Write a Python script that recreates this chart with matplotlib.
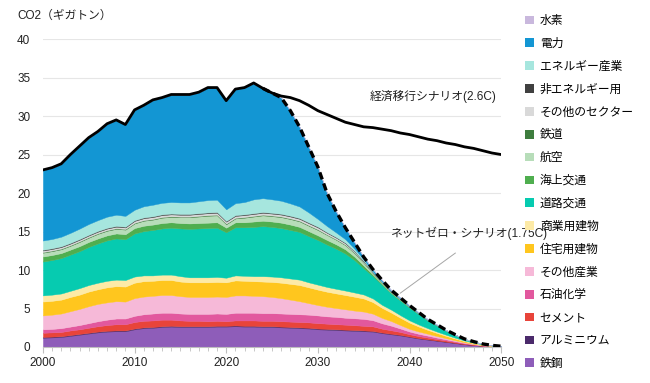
import numpy as np
import matplotlib
matplotlib.use("Agg")
import matplotlib.pyplot as plt
from matplotlib.patches import Patch

plt.rcParams['font.family'] = ['Liberation Sans', 'Noto Sans CJK JP', 'DejaVu Sans']

years = list(range(2000, 2051))

# 部門別排出量（ギガトン） 下から順に積み上げ
steel = [1.2, 1.25, 1.3, 1.45, 1.6, 1.75, 1.9, 2.0, 2.05, 2.05,
         2.3, 2.45, 2.5, 2.6, 2.65, 2.6, 2.6, 2.6, 2.6, 2.65,
         2.65, 2.7, 2.65, 2.65, 2.6, 2.6, 2.55, 2.5, 2.45, 2.4,
         2.3, 2.25, 2.2, 2.15, 2.1, 2.05, 2.0, 1.8, 1.65, 1.5,
         1.3, 1.1, 0.95, 0.8, 0.65, 0.5, 0.35, 0.24, 0.14, 0.07, 0.03]
aluminium = [0.1, 0.1, 0.1, 0.1, 0.1, 0.1, 0.1, 0.1, 0.1, 0.1,
             0.1, 0.1, 0.1, 0.1, 0.1, 0.1, 0.1, 0.1, 0.1, 0.1,
             0.1, 0.1, 0.1, 0.1, 0.1, 0.1, 0.1, 0.1, 0.1, 0.1,
             0.1, 0.1, 0.1, 0.1, 0.1, 0.1, 0.08, 0.08, 0.07, 0.07,
             0.06, 0.05, 0.05, 0.04, 0.04, 0.03, 0.02, 0.02, 0.01, 0.01, 0.0]
cement = [0.55, 0.55, 0.55, 0.6, 0.6, 0.65, 0.7, 0.75, 0.8, 0.8,
          0.85, 0.85, 0.85, 0.85, 0.8, 0.75, 0.7, 0.7, 0.65, 0.65,
          0.6, 0.65, 0.7, 0.7, 0.7, 0.7, 0.7, 0.7, 0.7, 0.7,
          0.7, 0.68, 0.66, 0.65, 0.63, 0.6, 0.6, 0.5, 0.45, 0.38,
          0.3, 0.26, 0.22, 0.18, 0.15, 0.11, 0.08, 0.05, 0.03, 0.02, 0.01]
petchem = [0.45, 0.45, 0.5, 0.5, 0.55, 0.6, 0.65, 0.7, 0.75, 0.75,
           0.8, 0.85, 0.9, 0.9, 0.9, 0.9, 0.9, 0.9, 0.95, 0.95,
           0.95, 1.0, 1.0, 1.0, 1.0, 1.0, 1.0, 1.0, 1.0, 1.0,
           1.0, 0.95, 0.95, 0.9, 0.9, 0.9, 0.8, 0.7, 0.6, 0.45,
           0.35, 0.3, 0.25, 0.2, 0.15, 0.12, 0.08, 0.05, 0.03, 0.02, 0.01]
other_industry = [1.8, 1.85, 1.9, 2.0, 2.1, 2.2, 2.25, 2.25, 2.25, 2.2,
                  2.3, 2.3, 2.3, 2.3, 2.3, 2.25, 2.2, 2.2, 2.2, 2.2,
                  2.2, 2.25, 2.25, 2.2, 2.2, 2.1, 2.0, 1.85, 1.7, 1.5,
                  1.35, 1.25, 1.15, 1.1, 1.0, 0.95, 0.85, 0.7, 0.6, 0.45,
                  0.35, 0.3, 0.25, 0.2, 0.15, 0.11, 0.08, 0.05, 0.03, 0.02, 0.01]
residential = [1.8, 1.8, 1.8, 1.85, 1.85, 1.9, 1.9, 1.95, 1.95, 1.95,
               2.0, 2.0, 1.95, 1.95, 1.95, 1.9, 1.9, 1.9, 1.9, 1.9,
               1.9, 1.95, 1.9, 1.9, 1.9, 1.95, 2.0, 2.05, 2.1, 2.05,
               2.0, 1.95, 1.9, 1.85, 1.8, 1.7, 1.5, 1.3, 1.1, 0.95,
               0.8, 0.65, 0.5, 0.4, 0.3, 0.22, 0.15, 0.1, 0.06, 0.03, 0.01]
commercial = [0.8, 0.8, 0.8, 0.8, 0.85, 0.85, 0.85, 0.85, 0.85, 0.85,
              0.8, 0.75, 0.7, 0.7, 0.7, 0.7, 0.65, 0.65, 0.65, 0.65,
              0.6, 0.65, 0.65, 0.65, 0.7, 0.7, 0.7, 0.7, 0.7, 0.65,
              0.65, 0.62, 0.6, 0.58, 0.55, 0.52, 0.48, 0.4, 0.38, 0.33,
              0.3, 0.26, 0.22, 0.18, 0.15, 0.11, 0.08, 0.05, 0.03, 0.02, 0.01]
road = [4.4, 4.5, 4.6, 4.7, 4.8, 4.95, 5.1, 5.25, 5.35, 5.3,
        5.6, 5.75, 5.9, 6.0, 6.1, 6.2, 6.3, 6.35, 6.4, 6.4,
        5.9, 6.25, 6.3, 6.4, 6.5, 6.45, 6.4, 6.3, 6.2, 6.0,
        5.8, 5.5, 5.2, 4.8, 4.2, 3.4, 2.9, 2.6, 2.1, 1.9,
        1.65, 1.35, 0.98, 0.77, 0.5, 0.33, 0.18, 0.12, 0.06, 0.02, 0.02]
marine = [0.65, 0.65, 0.65, 0.65, 0.65, 0.65, 0.65, 0.65, 0.65, 0.65,
          0.7, 0.7, 0.7, 0.7, 0.7, 0.7, 0.7, 0.7, 0.7, 0.7,
          0.6, 0.65, 0.65, 0.7, 0.7, 0.7, 0.7, 0.7, 0.65, 0.65,
          0.6, 0.6, 0.57, 0.55, 0.45, 0.35, 0.2, 0.15, 0.1, 0.08,
          0.07, 0.06, 0.05, 0.04, 0.03, 0.02, 0.01, 0.01, 0.01, 0.0, 0.0]
aviation = [0.5, 0.5, 0.5, 0.5, 0.55, 0.55, 0.6, 0.6, 0.6, 0.6,
            0.6, 0.65, 0.65, 0.7, 0.7, 0.75, 0.8, 0.85, 0.9, 0.9,
            0.45, 0.5, 0.6, 0.65, 0.7, 0.7, 0.72, 0.72, 0.72, 0.7,
            0.7, 0.65, 0.6, 0.55, 0.45, 0.35, 0.18, 0.12, 0.08, 0.06,
            0.05, 0.04, 0.03, 0.03, 0.02, 0.02, 0.01, 0.01, 0.0, 0.0, 0.0]
rail = [0.08, 0.08, 0.08, 0.08, 0.08, 0.08, 0.08, 0.08, 0.08, 0.08,
        0.08, 0.08, 0.08, 0.08, 0.08, 0.08, 0.08, 0.08, 0.08, 0.08,
        0.08, 0.08, 0.08, 0.08, 0.08, 0.08, 0.08, 0.08, 0.08, 0.08,
        0.08, 0.06, 0.06, 0.06, 0.06, 0.06, 0.03, 0.02, 0.02, 0.02,
        0.01, 0.01, 0.01, 0.01, 0.01, 0.01, 0.0, 0.0, 0.0, 0.0, 0.0]
other_sectors = [0.2, 0.2, 0.2, 0.2, 0.2, 0.2, 0.2, 0.2, 0.2, 0.2,
                 0.25, 0.25, 0.25, 0.25, 0.25, 0.25, 0.25, 0.25, 0.25, 0.25,
                 0.25, 0.25, 0.25, 0.25, 0.25, 0.25, 0.25, 0.25, 0.25, 0.25,
                 0.25, 0.22, 0.2, 0.18, 0.15, 0.12, 0.08, 0.05, 0.04, 0.03,
                 0.03, 0.02, 0.02, 0.01, 0.01, 0.01, 0.0, 0.0, 0.0, 0.0, 0.0]
non_energy = [0.1, 0.1, 0.1, 0.1, 0.1, 0.1, 0.1, 0.1, 0.1, 0.1,
              0.1, 0.1, 0.1, 0.1, 0.1, 0.1, 0.1, 0.1, 0.1, 0.1,
              0.1, 0.1, 0.1, 0.1, 0.1, 0.1, 0.1, 0.1, 0.1, 0.1,
              0.1, 0.08, 0.08, 0.08, 0.08, 0.08, 0.04, 0.03, 0.03, 0.02,
              0.02, 0.01, 0.01, 0.01, 0.01, 0.0, 0.0, 0.0, 0.0, 0.0, 0.0]
energy_industry = [1.2, 1.2, 1.25, 1.3, 1.35, 1.4, 1.4, 1.45, 1.45, 1.4,
                   1.35, 1.45, 1.5, 1.5, 1.5, 1.5, 1.5, 1.55, 1.6, 1.6,
                   1.5, 1.55, 1.6, 1.8, 1.8, 1.75, 1.7, 1.6, 1.5, 1.3,
                   1.0, 0.8, 0.6, 0.45, 0.3, 0.2, 0.08, 0.05, 0.04, 0.03,
                   0.02, 0.02, 0.01, 0.01, 0.01, 0.0, 0.0, 0.0, 0.0, 0.0, 0.0]
power = [9.17, 9.27, 9.47, 10.17, 10.72, 11.22, 11.52, 12.07, 12.32, 11.87,
         12.97, 13.12, 13.62, 13.67, 13.97, 14.02, 14.02, 14.17, 14.62, 14.57,
         14.12, 14.82, 14.87, 15.12, 14.27, 13.82, 13.4, 12.05, 10.35, 8.52,
         6.77, 4.29, 2.73, 1.5, 0.83, 0.32, 0.28, 0.2, 0.14, 0.13,
         0.09, 0.07, 0.05, 0.02, 0.02, 0.01, 0.01, 0.0, 0.0, 0.0, 0.0]
hydrogen = [0.0] * len(years)

# 経済移行シナリオ（2026年以降）
econ_years = list(range(2026, 2051))
econ_total = [32.6, 32.4, 32.0, 31.4, 30.7, 30.2, 29.7, 29.2, 28.9, 28.6,
              28.5, 28.3, 28.1, 27.8, 27.6, 27.3, 27.0, 26.8, 26.5, 26.3,
              26.0, 25.8, 25.5, 25.2, 25.0]

layers = [steel, aluminium, cement, petchem, other_industry, residential,
          commercial, road, marine, aviation, rail, other_sectors,
          non_energy, energy_industry, power, hydrogen]
labels = ['鉄鋼', 'アルミニウム', 'セメント', '石油化学', 'その他産業', '住宅用建物',
          '商業用建物', '道路交通', '海上交通', '航空', '鉄道', 'その他のセクター',
          '非エネルギー用', 'エネルギー産業', '電力', '水素']
colors = ['#8E5DB9', '#4B2A6B', '#E8443A', '#E2589E', '#F6B9D8', '#FFC61E',
          '#FDEAA6', '#06CBB0', '#4FAE4F', '#B7DDB9', '#3E7D3E', '#D9D9D9',
          '#404040', '#A6E6DE', '#1396D3', '#C9B8DD']

fig = plt.figure(figsize=(6.5, 3.83), dpi=100)
ax = fig.add_axes([0.066, 0.094, 0.705, 0.804])

polys = ax.stackplot(years, *layers, colors=colors)
for p, c in zip(polys, colors):
    p.set_edgecolor(c)
    p.set_linewidth(0.3)

total = np.sum(np.array(layers), axis=0)
hist_n = 2025 - 2000 + 1
solid_x = years[:hist_n] + econ_years
solid_y = list(total[:hist_n]) + econ_total
ax.plot(solid_x, solid_y, color='black', lw=2.0, solid_joinstyle='round', zorder=5)
ax.plot(years[24:], total[24:], color='black', lw=2.4, ls=(0, (2.2, 1.3)), zorder=6)

ax.set_xlim(2000, 2050)
ax.set_ylim(0, 40)
ax.set_yticks(range(0, 41, 5))
ax.set_xticks(range(2000, 2051, 10))
ax.set_xticks(years, minor=True)
ax.grid(axis='y', color='#E6E6E6', lw=0.8)
ax.set_axisbelow(True)
for s in ['top', 'right', 'left']:
    ax.spines[s].set_visible(False)
ax.spines['bottom'].set_color('#BFBFBF')
ax.tick_params(axis='y', length=0, pad=9, labelsize=8.5, labelcolor='#222222')
ax.tick_params(axis='x', which='major', length=4, color='#BFBFBF', pad=3,
               labelsize=8.5, labelcolor='#222222')
ax.tick_params(axis='x', which='minor', length=3, color='#BFBFBF')

fig.text(17 / 650, 1 - 16 / 383, 'CO2（ギガトン）', fontsize=8.5, va='center', ha='left',
         color='#222222')

ax.text(2035.7, 32.6, '経済移行シナリオ(2.6C)', fontsize=8.5, va='center', ha='left',
        color='#222222')
ax.text(2037.9, 14.8, 'ネットゼロ・シナリオ(1.75C)', fontsize=8.5, va='center', ha='left',
        color='#222222')
ax.plot([2045.0, 2039.0], [12.2, 7.0], color='#A6A6A6', lw=0.7, zorder=7)

handles = [Patch(facecolor=c, edgecolor='none') for c in colors]
fig.legend(handles[::-1], labels[::-1], loc='upper left',
           bbox_to_anchor=(525 / 650, 1 - 15 / 383), frameon=False,
           fontsize=8.5, handlelength=0.75, handleheight=0.75, handletextpad=0.5,
           labelspacing=0.92, borderpad=0, borderaxespad=0)

fig.savefig('out.png', dpi=100)
